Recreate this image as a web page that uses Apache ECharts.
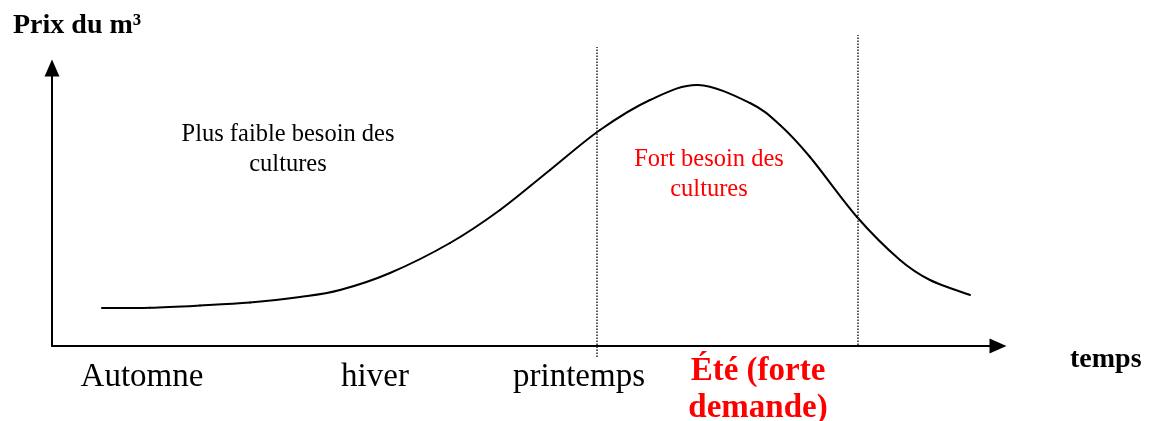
<!DOCTYPE html>
<html>
<head>
<meta charset="utf-8">
<script src="https://cdn.jsdelivr.net/npm/echarts@6/dist/echarts.min.js"></script>
<style>
  html, body { margin: 0; padding: 0; background: #fff; }
  #chart { width: 1151px; height: 421px; }
</style>
</head>
<body>
<div id="chart"></div>
<script>
// price curve (x = time, y = price, arbitrary units)
var curveX = [50, 98, 148, 198, 248, 288, 338, 398, 448, 498, 548, 598, 646, 698, 728, 758, 805, 848, 878, 918];
var curveY = [38, 38.3, 40.5, 43.5, 49, 56, 73, 103, 136, 176, 216, 246, 261, 243, 221, 189, 129, 86, 66, 51];

// dotted season boundaries: x position, bottom and top of each line
var dividerX = [545, 806];
var dividerBottom = [-11, 1];
var dividerTop = [299, 311];

// season labels under the time axis
var seasonX = [90, 323, 527, 706];
var seasonNames = ["Automne", "hiver", "printemps", "Été (forte\ndemande)"];

var serif = "'Liberation Serif', 'Times New Roman', serif";

var curveData = curveX.map(function (x, i) { return [x, curveY[i]]; });

var dividerSeries = dividerX.map(function (x, i) {
  return {
    type: "line",
    clip: false,
    silent: true,
    symbol: "none",
    lineStyle: { color: "#222", width: 1.5, type: [1.5, 1.5] },
    data: [[x, dividerBottom[i]], [x, dividerTop[i]]],
  };
});

// built-in smoothing clamps control points and leaves kinks,
// so the curve is drawn as catmull-rom bezier pieces through the axis scales
function renderCurve(params, api) {
  var pts = curveData.map(function (d) { return api.coord(d); });
  var n = pts.length;
  var pieces = [];
  for (var i = 0; i < n - 1; i++) {
    var p0 = pts[i > 0 ? i - 1 : i];
    var p1 = pts[i];
    var p2 = pts[i + 1];
    var p3 = pts[i + 2 < n ? i + 2 : i + 1];
    pieces.push({
      type: "bezierCurve",
      silent: true,
      shape: {
        x1: p1[0], y1: p1[1],
        cpx1: p1[0] + (p2[0] - p0[0]) / 6, cpy1: p1[1] + (p2[1] - p0[1]) / 6,
        cpx2: p2[0] - (p3[0] - p1[0]) / 6, cpy2: p2[1] - (p3[1] - p1[1]) / 6,
        x2: p2[0], y2: p2[1],
      },
      style: { stroke: "#000", lineWidth: 2, fill: null, lineCap: "round" },
    });
  }
  return { type: "group", children: pieces };
}

var chart = echarts.init(document.getElementById("chart"), null, { renderer: "canvas" });

chart.setOption({
  animation: false,
  backgroundColor: "#fff",
  title: {
    text: "Prix du m³",
    left: 8,
    top: 7,
    textStyle: { fontFamily: serif, fontSize: 28, fontWeight: "bold", color: "#000" },
  },
  grid: { left: 52, right: 153, top: 68, bottom: 75, outerBoundsMode: "none" },
  xAxis: {
    type: "value",
    min: 0,
    max: 946,
    name: "temps",
    nameLocation: "end",
    nameGap: 72,
    nameTextStyle: {
      fontFamily: serif, fontSize: 28, fontWeight: "bold", color: "#000",
      verticalAlign: "top",
    },
    axisLine: {
      lineStyle: { color: "#000", width: 2 },
      symbol: ["none", "triangle"],
      symbolSize: [15, 17],
    },
    axisTick: { show: false },
    splitLine: { show: false },
    axisLabel: {
      customValues: seasonX,
      margin: 7,
      formatter: function (v) {
        var i = seasonX.indexOf(v);
        if (i === 3) {
          return seasonNames[i].split("\n").map(function (s) { return "{e|" + s + "}"; }).join("\n");
        }
        return "{n|" + seasonNames[i] + "}";
      },
      rich: {
        n: { fontFamily: serif, fontSize: 33, color: "#000", lineHeight: 48 },
        e: { fontFamily: serif, fontSize: 33, fontWeight: "bold", color: "#ff0000", lineHeight: 37 },
      },
    },
  },
  yAxis: {
    type: "value",
    min: 0,
    max: 278,
    axisLine: {
      show: true,
      lineStyle: { color: "#000", width: 2 },
      symbol: ["none", "triangle"],
      symbolSize: [15, 17],
    },
    axisTick: { show: false },
    axisLabel: { show: false },
    splitLine: { show: false },
  },
  graphic: [
    {
      type: "text",
      x: 288,
      y: 150,
      style: {
        text: "Plus faible besoin des\ncultures",
        font: "24.5px " + serif,
        fill: "#000",
        align: "center",
        verticalAlign: "middle",
        lineHeight: 30,
      },
    },
    {
      type: "text",
      x: 709,
      y: 175,
      style: {
        text: "Fort besoin des\ncultures",
        font: "24.5px " + serif,
        fill: "#ff0000",
        align: "center",
        verticalAlign: "middle",
        lineHeight: 30,
      },
    },
  ],
  series: [
    {
      type: "custom",
      coordinateSystem: "cartesian2d",
      clip: false,
      data: [curveData[0]],
      renderItem: renderCurve,
    },
  ].concat(dividerSeries),
});
</script>
</body>
</html>
